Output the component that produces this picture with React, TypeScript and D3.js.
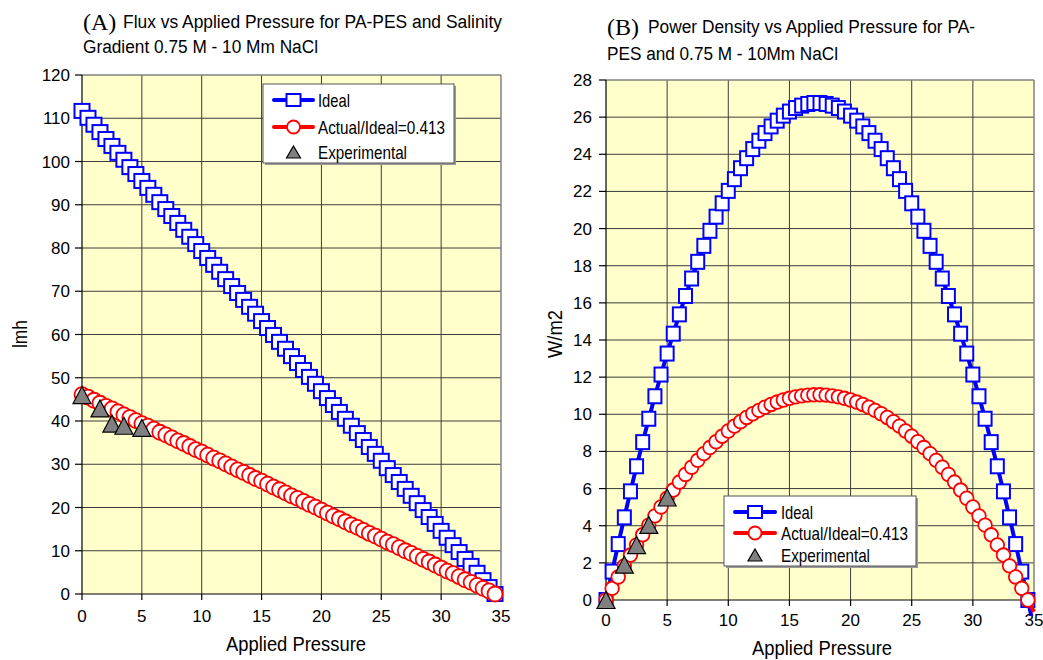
import React from "react";
import * as d3 from "d3";

// ---------- DATA ----------
const pressure = [
  0, 0.5, 1, 1.5, 2, 2.5, 3, 3.5, 4, 4.5, 5, 5.5, 6, 6.5, 7, 7.5, 8, 8.5, 9, 9.5,
  10, 10.5, 11, 11.5, 12, 12.5, 13, 13.5, 14, 14.5, 15, 15.5, 16, 16.5, 17, 17.5,
  18, 18.5, 19, 19.5, 20, 20.5, 21, 21.5, 22, 22.5, 23, 23.5, 24, 24.5, 25, 25.5,
  26, 26.5, 27, 27.5, 28, 28.5, 29, 29.5, 30, 30.5, 31, 31.5, 32, 32.5, 33, 33.5,
  34, 34.5, 35,
];

const fluxIdeal = [
  111.7, 110.1, 108.5, 106.8, 105.2, 103.6, 102.0, 100.4, 98.7, 97.1,
  95.5, 93.9, 92.3, 90.6, 89.0, 87.4, 85.8, 84.2, 82.6, 80.9,
  79.3, 77.7, 76.1, 74.5, 72.8, 71.2, 69.6, 68.0, 66.4, 64.8,
  63.1, 61.5, 59.9, 58.3, 56.7, 55.0, 53.4, 51.8, 50.2, 48.6,
  46.9, 45.3, 43.7, 42.1, 40.5, 38.9, 37.2, 35.6, 34.0, 32.4,
  30.8, 29.1, 27.5, 25.9, 24.3, 22.7, 21.0, 19.4, 17.8, 16.2,
  14.6, 13.0, 11.3, 9.7, 8.1, 6.5, 4.9, 3.2, 1.6, 0.0,
  -1.6,
];

const fluxActual = [
  46.1, 45.5, 44.8, 44.1, 43.4, 42.8, 42.1, 41.4, 40.8, 40.1,
  39.4, 38.8, 38.1, 37.4, 36.8, 36.1, 35.4, 34.8, 34.1, 33.4,
  32.8, 32.1, 31.4, 30.8, 30.1, 29.4, 28.7, 28.1, 27.4, 26.7,
  26.1, 25.4, 24.7, 24.1, 23.4, 22.7, 22.1, 21.4, 20.7, 20.1,
  19.4, 18.7, 18.0, 17.4, 16.7, 16.0, 15.4, 14.7, 14.0, 13.4,
  12.7, 12.0, 11.4, 10.7, 10.0, 9.4, 8.7, 8.0, 7.4, 6.7,
  6.0, 5.3, 4.7, 4.0, 3.3, 2.7, 2.0, 1.3, 0.7, 0.0,
  -0.7,
];

const powerIdeal = [
  0, 1.53, 3.01, 4.45, 5.85, 7.2, 8.5, 9.76, 10.97, 12.14,
  13.27, 14.34, 15.38, 16.37, 17.31, 18.21, 19.07, 19.88, 20.64, 21.36,
  22.03, 22.66, 23.25, 23.79, 24.28, 24.73, 25.14, 25.5, 25.81, 26.08,
  26.3, 26.49, 26.62, 26.71, 26.76, 26.76, 26.71, 26.62, 26.49, 26.3,
  26.08, 25.81, 25.5, 25.14, 24.73, 24.28, 23.79, 23.25, 22.66, 22.03,
  21.36, 20.64, 19.88, 19.07, 18.21, 17.31, 16.37, 15.38, 14.34, 13.27,
  12.14, 10.97, 9.76, 8.5, 7.2, 5.85, 4.45, 3.01, 1.53, 0,
  -1.56,
];

const powerActual = [
  0, 0.63, 1.24, 1.84, 2.42, 2.97, 3.51, 4.03, 4.53, 5.01,
  5.48, 5.92, 6.35, 6.76, 7.15, 7.52, 7.88, 8.21, 8.52, 8.82,
  9.1, 9.36, 9.6, 9.83, 10.03, 10.21, 10.38, 10.53, 10.66, 10.77,
  10.86, 10.94, 10.99, 11.03, 11.05, 11.05, 11.03, 10.99, 10.94, 10.86,
  10.77, 10.66, 10.53, 10.38, 10.21, 10.03, 9.83, 9.6, 9.36, 9.1,
  8.82, 8.52, 8.21, 7.88, 7.52, 7.15, 6.76, 6.35, 5.92, 5.48,
  5.01, 4.53, 4.03, 3.51, 2.97, 2.42, 1.84, 1.24, 0.63, 0,
  -0.64,
];

const expPressure = [0, 1.5, 2.5, 3.5, 5];
const expFlux = [46.0, 42.9, 39.4, 38.9, 38.4];
const expPower = [0, 1.9, 2.96, 4.04, 5.52];

const xTicks = [0, 5, 10, 15, 20, 25, 30, 35];
const fluxTicks = [0, 10, 20, 30, 40, 50, 60, 70, 80, 90, 100, 110, 120];
const powerTicks = [0, 2, 4, 6, 8, 10, 12, 14, 16, 18, 20, 22, 24, 26, 28];

const legendLabels = ["Ideal", "Actual/Ideal=0.413", "Experimental"];
const xLabel = "Applied Pressure";

// ---------- STYLE ----------
const SANS = "'Liberation Sans', Arial, Helvetica, sans-serif";
const SERIF = "'Liberation Serif', 'Times New Roman', serif";
const BLUE = "#0000ff";
const RED = "#ff0000";
const BG = "#ffffcc";
const GRID = "#3c3c3c";

type Cfg = {
  id: string;
  x0: number;
  x1: number;
  yTop: number;
  yBot: number;
  yMax: number;
  yTicks: number[];
  ideal: number[];
  actual: number[];
  exp: number[];
  sq: [number, number];
  cr: number;
  tickLabelX: number;
  yLabel: string;
  yLabelPos: [number, number];
  yLabelLen: number;
  xLabelPos: [number, number];
  xTickBaseline: number;
  legend: { x: number; y: number; w: number; h: number; rows: number[]; lx0: number; lx1: number; tx: number; tlen: number[] };
};

function tri(cx: number, cy: number, w: number, h: number) {
  return `M${cx},${cy - h / 2}L${cx + w / 2},${cy + h / 2}L${cx - w / 2},${cy + h / 2}Z`;
}

function Panel({ c }: { c: Cfg }) {
  const x = d3.scaleLinear().domain([0, 35]).range([c.x0, c.x1]);
  const y = d3.scaleLinear().domain([0, c.yMax]).range([c.yBot, c.yTop]);
  const line = d3
    .line<number>()
    .x((_, i) => x(pressure[i]))
    .y((d) => y(d));
  const [sw, sh] = c.sq;
  const L = c.legend;
  return (
    <g fontFamily={SANS}>
      <defs>
        <clipPath id={`clip-${c.id}`}>
          <rect x={c.x0 - 20} y={c.yTop - 20} width={c.x1 - c.x0 + 40} height={c.yBot - c.yTop + 36} />
        </clipPath>
      </defs>
      <rect x={c.x0} y={c.yTop} width={c.x1 - c.x0} height={c.yBot - c.yTop} fill={BG} />
      {/* grid */}
      {xTicks.slice(1, -1).map((t) => (
        <line key={"gx" + t} x1={x(t)} x2={x(t)} y1={c.yTop} y2={c.yBot} stroke={GRID} strokeWidth={1} />
      ))}
      {c.yTicks.slice(1, -1).map((t) => (
        <line key={"gy" + t} x1={c.x0} x2={c.x1} y1={y(t)} y2={y(t)} stroke={GRID} strokeWidth={1} />
      ))}
      <line x1={c.x0} x2={c.x1} y1={c.yTop} y2={c.yTop} stroke="#808080" strokeWidth={1.5} />
      <line x1={c.x1} x2={c.x1} y1={c.yTop} y2={c.yBot} stroke="#808080" strokeWidth={1.5} />
      {/* axes */}
      <line x1={c.x0} x2={c.x0} y1={c.yTop} y2={c.yBot} stroke="#000" strokeWidth={1.2} />
      <line x1={c.x0} x2={c.x1} y1={c.yBot} y2={c.yBot} stroke="#000" strokeWidth={1.2} />
      {c.yTicks.map((t) => (
        <g key={"ty" + t}>
          <line x1={c.x0 - 7} x2={c.x0} y1={y(t)} y2={y(t)} stroke="#000" strokeWidth={1.2} />
          <text x={c.tickLabelX} y={y(t) + 6} textAnchor="end" fontSize={17} fill="#000">
            {t}
          </text>
        </g>
      ))}
      {xTicks.map((t) => (
        <g key={"tx" + t}>
          <line x1={x(t)} x2={x(t)} y1={c.yBot} y2={c.yBot + 6} stroke="#000" strokeWidth={1.2} />
          <text x={x(t)} y={c.xTickBaseline} textAnchor="middle" fontSize={17} fill="#000">
            {t}
          </text>
        </g>
      ))}
      <text x={c.xLabelPos[0]} y={c.xLabelPos[1]} textAnchor="middle" fontSize={20} textLength={140} lengthAdjust="spacingAndGlyphs">
        {xLabel}
      </text>
      <text
        transform={`translate(${c.yLabelPos[0]},${c.yLabelPos[1]}) rotate(-90)`}
        textAnchor="middle"
        fontSize={21}
        textLength={c.yLabelLen}
        lengthAdjust="spacingAndGlyphs"
      >
        {c.yLabel}
      </text>
      {/* series */}
      <g clipPath={`url(#clip-${c.id})`}>
        <path d={line(c.ideal) || ""} fill="none" stroke={BLUE} strokeWidth={4} strokeLinejoin="round" />
      </g>
      {c.ideal.map((v, i) =>
        v < 0 ? null : (
          <rect key={"s" + i} x={x(pressure[i]) - sw / 2} y={y(v) - sh / 2} width={sw} height={sh} fill="#fff" stroke={BLUE} strokeWidth={2} />
        )
      )}
      <g clipPath={`url(#clip-${c.id})`}>
        <path d={line(c.actual) || ""} fill="none" stroke={RED} strokeWidth={4} strokeLinejoin="round" />
      </g>
      {c.actual.map((v, i) =>
        v < 0 ? null : <circle key={"c" + i} cx={x(pressure[i])} cy={y(v)} r={c.cr} fill="#fff" stroke={RED} strokeWidth={1.8} />
      )}
      {c.exp.map((v, i) => (
        <path key={"t" + i} d={tri(x(expPressure[i]), y(v), 18, 17)} fill="#808080" stroke="#000" strokeWidth={1.2} />
      ))}
      {/* legend */}
      <rect x={L.x + 2} y={L.y + 2} width={L.w} height={L.h} fill="#9a9a9a" />
      <rect x={L.x} y={L.y} width={L.w} height={L.h} fill="#fff" stroke="#555" strokeWidth={1} />
      <line x1={L.lx0} x2={L.lx1} y1={L.rows[0]} y2={L.rows[0]} stroke={BLUE} strokeWidth={4} strokeLinecap="round" />
      <rect x={(L.lx0 + L.lx1) / 2 - 7} y={L.rows[0] - 6} width={14} height={12} fill="#fff" stroke={BLUE} strokeWidth={2} />
      <line x1={L.lx0} x2={L.lx1} y1={L.rows[1]} y2={L.rows[1]} stroke={RED} strokeWidth={4} strokeLinecap="round" />
      <circle cx={(L.lx0 + L.lx1) / 2} cy={L.rows[1]} r={6.5} fill="#fff" stroke={RED} strokeWidth={1.8} />
      <path d={tri((L.lx0 + L.lx1) / 2, L.rows[2], 14, 12)} fill="#808080" stroke="#000" strokeWidth={1.2} />
      {legendLabels.map((lab, i) => (
        <text key={lab} x={L.tx} y={L.rows[i] + 6.5} fontSize={18.5} textLength={L.tlen[i]} lengthAdjust="spacingAndGlyphs">
          {lab}
        </text>
      ))}
    </g>
  );
}

const leftCfg: Cfg = {
  id: "a",
  x0: 82,
  x1: 501,
  yTop: 75,
  yBot: 594,
  yMax: 120,
  yTicks: fluxTicks,
  ideal: fluxIdeal,
  actual: fluxActual,
  exp: expFlux,
  sq: [15, 14],
  cr: 7.5,
  tickLabelX: 70,
  yLabel: "lmh",
  yLabelPos: [27, 334],
  yLabelLen: 28,
  xLabelPos: [296, 651],
  xTickBaseline: 622,
  legend: { x: 263, y: 84, w: 191, h: 79, rows: [100, 127, 152], lx0: 274, lx1: 313, tx: 318, tlen: [32, 127, 89] },
};

const rightCfg: Cfg = {
  id: "b",
  x0: 606,
  x1: 1034,
  yTop: 80,
  yBot: 600,
  yMax: 28,
  yTicks: powerTicks,
  ideal: powerIdeal,
  actual: powerActual,
  exp: expPower,
  sq: [13, 14],
  cr: 6.8,
  tickLabelX: 592,
  yLabel: "W/m2",
  yLabelPos: [562, 334],
  yLabelLen: 48,
  xLabelPos: [822, 655],
  xTickBaseline: 626,
  legend: { x: 724, y: 496, w: 192, h: 70, rows: [512, 533, 555], lx0: 735, lx1: 775, tx: 781, tlen: [32, 127, 89] },
};

export default function App() {
  return (
    <svg width={1043} height={660} style={{ position: "absolute", left: 0, top: 0, background: "#fff" }}>
      <rect width={1043} height={660} fill="#fff" />
      {/* Titles */}
      <text x={83} y={30} fontFamily={SERIF} fontSize={24}>(A)</text>
      <text x={123} y={28} fontFamily={SANS} fontSize={18} textLength={379} lengthAdjust="spacingAndGlyphs">
        Flux vs Applied Pressure for PA-PES and Salinity
      </text>
      <text x={83} y={53} fontFamily={SANS} fontSize={18} textLength={235} lengthAdjust="spacingAndGlyphs">
        Gradient 0.75 M - 10 Mm NaCl
      </text>
      <text x={607} y={35} fontFamily={SERIF} fontSize={24}>(B)</text>
      <text x={648} y={33} fontFamily={SANS} fontSize={18} textLength={327} lengthAdjust="spacingAndGlyphs">
        Power Density vs Applied Pressure for PA-
      </text>
      <text x={607} y={60} fontFamily={SANS} fontSize={18} textLength={231} lengthAdjust="spacingAndGlyphs">
        PES and 0.75 M - 10Mm NaCl
      </text>
      <Panel c={leftCfg} />
      <Panel c={rightCfg} />
    </svg>
  );
}
